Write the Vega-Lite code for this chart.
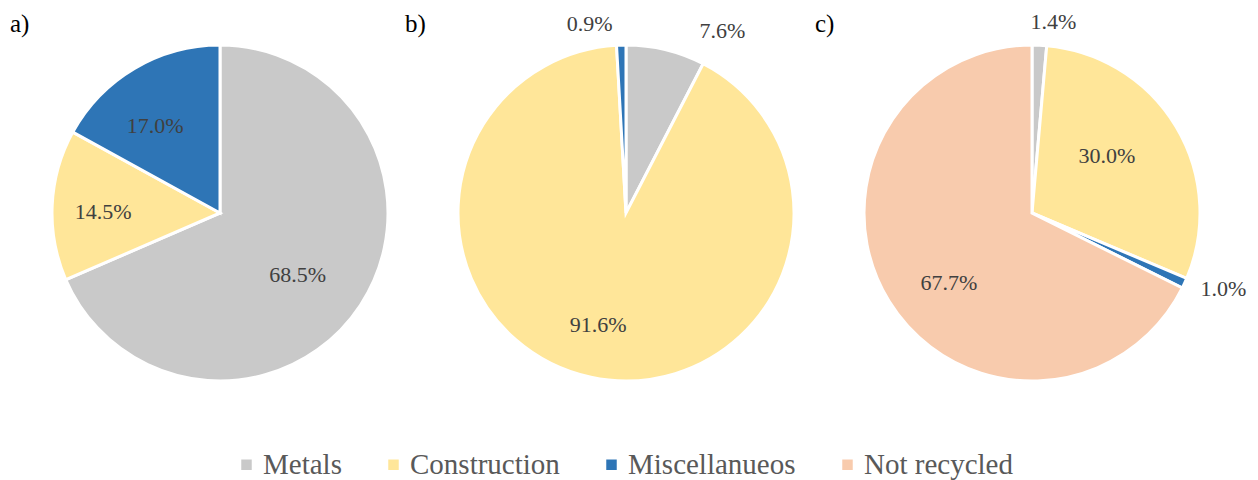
{
  "$schema": "https://vega.github.io/schema/vega-lite/v6.json",
  "padding": {"left": 10, "top": 0, "right": 0, "bottom": 0},
  "spacing": 0,
  "bounds": "flush",
  "background": "white",
  "config": {
    "view": {"stroke": null},
    "font": "Liberation Serif",
    "title": {"font": "Liberation Serif", "fontSize": 25, "fontWeight": "normal", "color": "#000000", "anchor": "start"},
    "text": {"font": "Liberation Serif", "fontSize": 22},
    "legend": {"labelFont": "Liberation Serif", "labelFontSize": 29, "labelColor": "#595959"}
  },
  "datasets": {
    "shares": [
      {"panel": "a", "category": "Metals", "idx": 1, "share": 68.5, "label": "68.5%"},
      {"panel": "a", "category": "Construction", "idx": 2, "share": 14.5, "label": "14.5%"},
      {"panel": "a", "category": "Miscellanueos", "idx": 3, "share": 17.0, "label": "17.0%"},
      {"panel": "b", "category": "Metals", "idx": 1, "share": 7.6, "label": "7.6%"},
      {"panel": "b", "category": "Construction", "idx": 2, "share": 91.6, "label": "91.6%"},
      {"panel": "b", "category": "Miscellanueos", "idx": 3, "share": 0.9, "label": "0.9%"},
      {"panel": "c", "category": "Metals", "idx": 1, "share": 1.4, "label": "1.4%"},
      {"panel": "c", "category": "Construction", "idx": 2, "share": 30.0, "label": "30.0%"},
      {"panel": "c", "category": "Miscellanueos", "idx": 3, "share": 1.0, "label": "1.0%"},
      {"panel": "c", "category": "Not recycled", "idx": 4, "share": 67.7, "label": "67.7%"}
    ]
  },
  "data": {"name": "shares"},
  "resolve": {"scale": {"color": "shared"}},
  "hconcat": [
    {
      "title": {"text": "a)", "offset": -57, "baseline": "alphabetic"},
      "width": 420,
      "height": 426,
      "transform": [{"filter": "datum.panel === 'a'"}],
      "encoding": {
        "theta": {"field": "share", "type": "quantitative", "stack": true},
        "order": {"field": "idx", "type": "quantitative"}
      },
      "layer": [
        {
          "mark": {"type": "arc", "outerRadius": 168, "stroke": "white", "strokeWidth": 3},
          "encoding": {
            "color": {
              "field": "category", "type": "nominal",
              "scale": {"domain": ["Metals", "Construction", "Miscellanueos", "Not recycled"], "range": ["#c9c9c9", "#ffe699", "#2e75b6", "#f8cbad"]},
              "legend": {"title": null, "orient": "none", "direction": "horizontal", "legendX": 222, "legendY": 450, "symbolType": "square", "symbolSize": 110, "symbolStrokeWidth": 0, "labelFont": "Liberation Serif", "labelFontSize": 29, "labelColor": "#595959", "labelOffset": 2, "labelLimit": 400, "columnPadding": 37}
            }
          }
        },
        {
          "mark": {"type": "text", "radius": 106, "dx": -11, "dy": 4, "color": "#404040"},
          "encoding": {"text": {"field": "label", "type": "nominal", "condition": {"test": "datum.share < 10", "value": ""}}}
        }
      ]
    },
    {
      "title": {"text": "b)", "offset": -57, "baseline": "alphabetic", "dx": -25},
      "width": 392,
      "height": 426,
      "transform": [{"filter": "datum.panel === 'b'"}],
      "encoding": {
        "theta": {"field": "share", "type": "quantitative", "stack": true},
        "order": {"field": "idx", "type": "quantitative"}
      },
      "layer": [
        {
          "mark": {"type": "arc", "outerRadius": 168, "stroke": "white", "strokeWidth": 3},
          "encoding": {
            "color": {
              "field": "category", "type": "nominal",
              "scale": {"domain": ["Metals", "Construction", "Miscellanueos", "Not recycled"], "range": ["#c9c9c9", "#ffe699", "#2e75b6", "#f8cbad"]},
              "legend": {"title": null, "orient": "none", "direction": "horizontal", "legendX": 222, "legendY": 450, "symbolType": "square", "symbolSize": 110, "symbolStrokeWidth": 0, "labelFont": "Liberation Serif", "labelFontSize": 29, "labelColor": "#595959", "labelOffset": 2, "labelLimit": 400, "columnPadding": 37}
            }
          }
        },
        {
          "mark": {"type": "text", "radius": 110, "dx": -5, "dy": 4, "color": "#404040"},
          "encoding": {"text": {"field": "label", "type": "nominal", "condition": {"test": "datum.share < 10", "value": ""}}}
        },
        {
          "mark": {"type": "text", "radius": 192, "dx": 51, "dy": 5, "color": "#404040"},
          "encoding": {"text": {"field": "label", "type": "nominal", "condition": {"test": "datum.category !== 'Metals'", "value": ""}}}
        },
        {
          "mark": {"type": "text", "radius": 192, "dx": -31, "dy": 3, "color": "#404040"},
          "encoding": {"text": {"field": "label", "type": "nominal", "condition": {"test": "datum.category !== 'Miscellanueos'", "value": ""}}}
        }
      ]
    },
    {
      "title": {"text": "c)", "offset": -57, "baseline": "alphabetic", "dx": -7},
      "width": 420,
      "height": 426,
      "transform": [{"filter": "datum.panel === 'c'"}],
      "encoding": {
        "theta": {"field": "share", "type": "quantitative", "stack": true},
        "order": {"field": "idx", "type": "quantitative"}
      },
      "layer": [
        {
          "mark": {"type": "arc", "outerRadius": 168, "stroke": "white", "strokeWidth": 3},
          "encoding": {
            "color": {
              "field": "category", "type": "nominal",
              "scale": {"domain": ["Metals", "Construction", "Miscellanueos", "Not recycled"], "range": ["#c9c9c9", "#ffe699", "#2e75b6", "#f8cbad"]},
              "legend": {"title": null, "orient": "none", "direction": "horizontal", "legendX": 222, "legendY": 450, "symbolType": "square", "symbolSize": 110, "symbolStrokeWidth": 0, "labelFont": "Liberation Serif", "labelFontSize": 29, "labelColor": "#595959", "labelOffset": 2, "labelLimit": 400, "columnPadding": 37}
            }
          }
        },
        {
          "mark": {"type": "text", "radius": 106, "dx": -16, "dy": -2, "color": "#404040"},
          "encoding": {"text": {"field": "label", "type": "nominal", "condition": {"test": "datum.category !== 'Construction'", "value": ""}}}
        },
        {
          "mark": {"type": "text", "radius": 106, "dx": 7, "dy": 14, "color": "#404040"},
          "encoding": {"text": {"field": "label", "type": "nominal", "condition": {"test": "datum.category !== 'Not recycled'", "value": ""}}}
        },
        {
          "mark": {"type": "text", "radius": 192, "dx": 13, "dy": 1, "color": "#404040"},
          "encoding": {"text": {"field": "label", "type": "nominal", "condition": {"test": "datum.category !== 'Metals'", "value": ""}}}
        },
        {
          "mark": {"type": "text", "radius": 192, "dx": 17, "dy": -4, "color": "#404040"},
          "encoding": {"text": {"field": "label", "type": "nominal", "condition": {"test": "datum.category !== 'Miscellanueos'", "value": ""}}}
        }
      ]
    }
  ]
}
